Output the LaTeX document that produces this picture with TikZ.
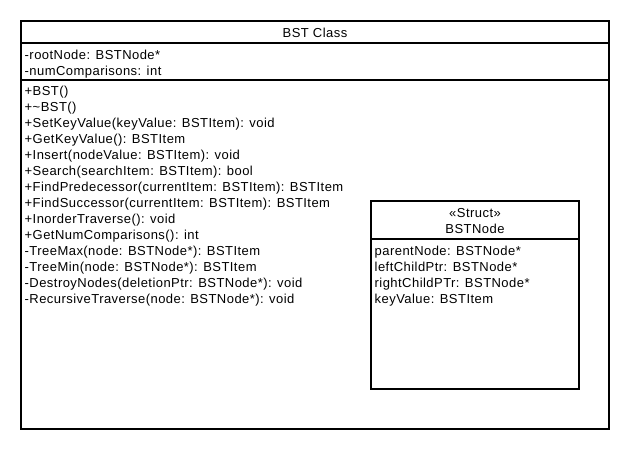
\documentclass[tikz,border=0pt]{standalone}
\usepackage{fontspec}
\setmainfont{Liberation Sans}[LetterSpace=3.5]
\usetikzlibrary{positioning}

\begin{document}
\begin{tikzpicture}[x=1pt,y=-1pt,node distance=0pt,
classbox/.style={draw,line width=1.2pt,inner sep=0pt,outer sep=0pt,
    minimum width=588pt,anchor=north west},
umltext/.style={font=\fontsize{13}{16}\selectfont,align=left,inner sep=0pt},
umltitle/.style={font=\fontsize{13}{16}\selectfont,align=center,inner sep=0pt}
    ]
\useasboundingbox (0,0) rectangle (630,450);
% BST class
\node[classbox,minimum height=22pt] (BSTHead) at (21,21) {};
\node[classbox,minimum height=37pt] (BSTAttr) [below=of BSTHead] {};
\node[classbox,minimum height=349pt] (BSTOps) [below=of BSTAttr] {};
\node[umltitle] (BSTName) [yshift=-1pt] at (BSTHead) {BST Class};
\node[umltext] (BSTFields) [below right=7pt and 3.5pt of BSTAttr.north west]
    {-rootNode: BSTNode*\\-numComparisons: int};
\node[umltext] (BSTMethods) [below right=6pt and 3.5pt of BSTOps.north west]
    {+BST()\\
     +\textasciitilde BST()\\
     +SetKeyValue(keyValue: BSTItem): void\\
     +GetKeyValue(): BSTItem\\
     +Insert(nodeValue: BSTItem): void\\
     +Search(searchItem: BSTItem): bool\\
     +FindPredecessor(currentItem: BSTItem): BSTItem\\
     +FindSuccessor(currentItem: BSTItem): BSTItem\\
     +InorderTraverse(): void\\
     +GetNumComparisons(): int\\
     -TreeMax(node: BSTNode*): BSTItem\\
     -TreeMin(node: BSTNode*): BSTItem\\
     -DestroyNodes(deletionPtr: BSTNode*): void\\
     -RecursiveTraverse(node: BSTNode*): void};
% BSTNode struct
\node[classbox,minimum width=208pt,minimum height=38pt] (NodeHead) at (371,201) {};
\node[classbox,minimum width=208pt,minimum height=150pt] (NodeAttr) [below=of NodeHead] {};
\node[umltitle] (NodeName) [yshift=-1pt] at (NodeHead) {«Struct»\\BSTNode};
\node[umltext] (NodeFields) [below right=7pt and 3.5pt of NodeAttr.north west]
    {parentNode: BSTNode*\\
     leftChildPtr: BSTNode*\\
     rightChildPTr: BSTNode*\\
     keyValue: BSTItem};
\end{tikzpicture}
\end{document}
